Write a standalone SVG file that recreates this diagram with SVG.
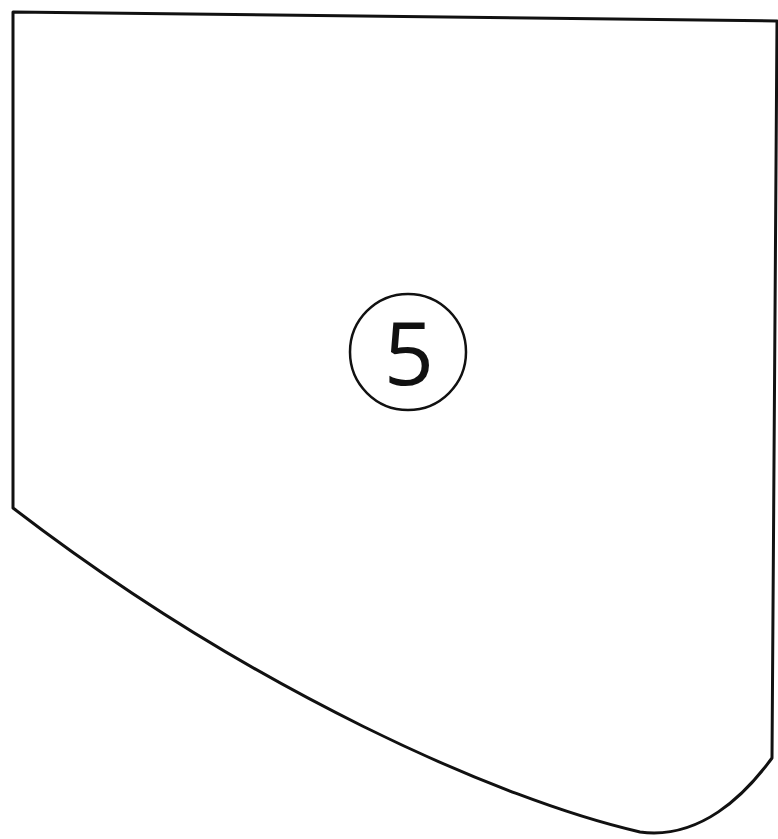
<svg xmlns="http://www.w3.org/2000/svg" width="778" height="839" viewBox="0 0 778 839">
<style>
.outline{fill:#fff;stroke:#111;stroke-width:3;stroke-linejoin:round}
.badge{fill:#fff;stroke:#111;stroke-width:2.5}
.num{font-family:"Open Sans","Noto Sans",sans-serif;font-size:88px;fill:#111;text-anchor:middle}
</style>
<rect width="778" height="839" fill="#fff"/>
<g id="shape">
<path class="outline" d="M13,12 L777,21 L772,758 C745,795 700,840 640,832 C500,800 250,690 13,508 Z"/>
</g>
<g id="label5">
<circle class="badge" cx="408" cy="352" r="58"/>
<text class="num" x="409" y="385">5</text>
</g>
</svg>
